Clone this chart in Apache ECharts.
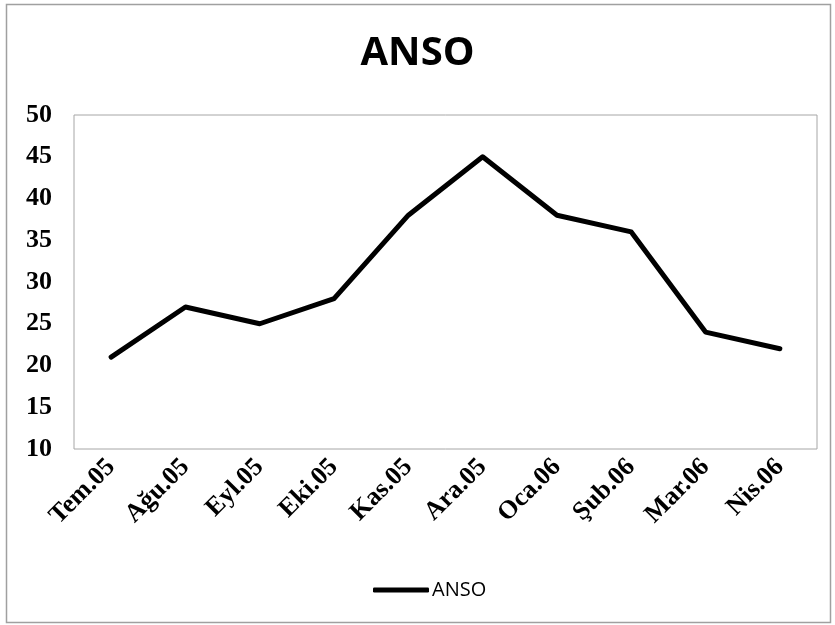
<!DOCTYPE html>
<html>
<head>
<meta charset="utf-8">
<script src="https://cdn.jsdelivr.net/npm/echarts@6/dist/echarts.min.js"></script>
<style>
  html, body { margin: 0; padding: 0; background: #ffffff; }
  #chart { width: 835px; height: 625px; }
</style>
</head>
<body>
<div id="chart"></div>
<script>
// Monthly ANSO values, July 2005 – April 2006
const months = ['Tem.05', 'Ağu.05', 'Eyl.05', 'Eki.05', 'Kas.05', 'Ara.05', 'Oca.06', 'Şub.06', 'Mar.06', 'Nis.06'];
const ansoValues = [21, 27, 25, 28, 38, 45, 38, 36, 24, 22];
const yTicks = { min: 10, max: 50, step: 5 };

const chart = echarts.init(document.getElementById('chart'), null, { renderer: 'canvas' });

const serifBold = { fontFamily: '"Liberation Serif", "DejaVu Serif", serif', fontWeight: 'bold', fontSize: 26, color: '#000' };

chart.setOption({
  backgroundColor: '#ffffff',
  animation: false,
  title: {
    text: 'ANSO',
    left: 'center',
    top: 29,
    textStyle: { fontFamily: '"Open Sans", sans-serif', fontWeight: 'bold', fontSize: 40, color: '#000' }
  },
  legend: {
    left: 368,
    top: 575,
    itemWidth: 56,
    itemHeight: 5,
    itemGap: 4,
    icon: 'roundRect',
    textStyle: { fontFamily: '"Open Sans", sans-serif', fontSize: 20, color: '#000', padding: [0, 0, 0, -2] },
    data: ['ANSO']
  },
  grid: {
    left: 74,
    top: 115,
    right: 18,
    bottom: 176,
    show: true,
    borderColor: '#a6a6a6',
    borderWidth: 1,
    backgroundColor: '#ffffff'
  },
  graphic: [
    // outer chart frame
    {
      type: 'rect',
      shape: { x: 6.5, y: 4.5, width: 824, height: 618 },
      style: { fill: 'none', stroke: '#a0a0a0', lineWidth: 1.5 },
      z: 100
    },
    // soft inner shading along the bottom and right of the plot area
    {
      type: 'rect',
      shape: { x: 75, y: 434, width: 742, height: 14 },
      style: {
        fill: new echarts.graphic.LinearGradient(0, 0, 0, 1, [
          { offset: 0, color: 'rgba(225,225,225,0)' },
          { offset: 1, color: 'rgba(215,215,215,0.9)' }
        ])
      },
      z: -1
    },
    {
      type: 'rect',
      shape: { x: 803, y: 116, width: 14, height: 332 },
      style: {
        fill: new echarts.graphic.LinearGradient(0, 0, 1, 0, [
          { offset: 0, color: 'rgba(225,225,225,0)' },
          { offset: 1, color: 'rgba(205,205,205,0.9)' }
        ])
      },
      z: -1
    }
  ],
  xAxis: {
    type: 'category',
    data: months,
    boundaryGap: true,
    axisLine: { show: false },
    axisTick: { show: false },
    splitLine: { show: false },
    axisLabel: Object.assign({ rotate: 45, margin: 14, interval: 0 }, serifBold)
  },
  yAxis: {
    type: 'value',
    min: yTicks.min,
    max: yTicks.max,
    interval: yTicks.step,
    axisLine: { show: false },
    axisTick: { show: false },
    splitLine: { show: false },
    axisLabel: Object.assign({ margin: 22 }, serifBold)
  },
  series: [{
    name: 'ANSO',
    type: 'line',
    data: ansoValues,
    symbol: 'none',
    lineStyle: { color: '#000', width: 5, cap: 'round', join: 'round' },
    itemStyle: { color: '#000' },
    z: 5
  }]
});
</script>
</body>
</html>
